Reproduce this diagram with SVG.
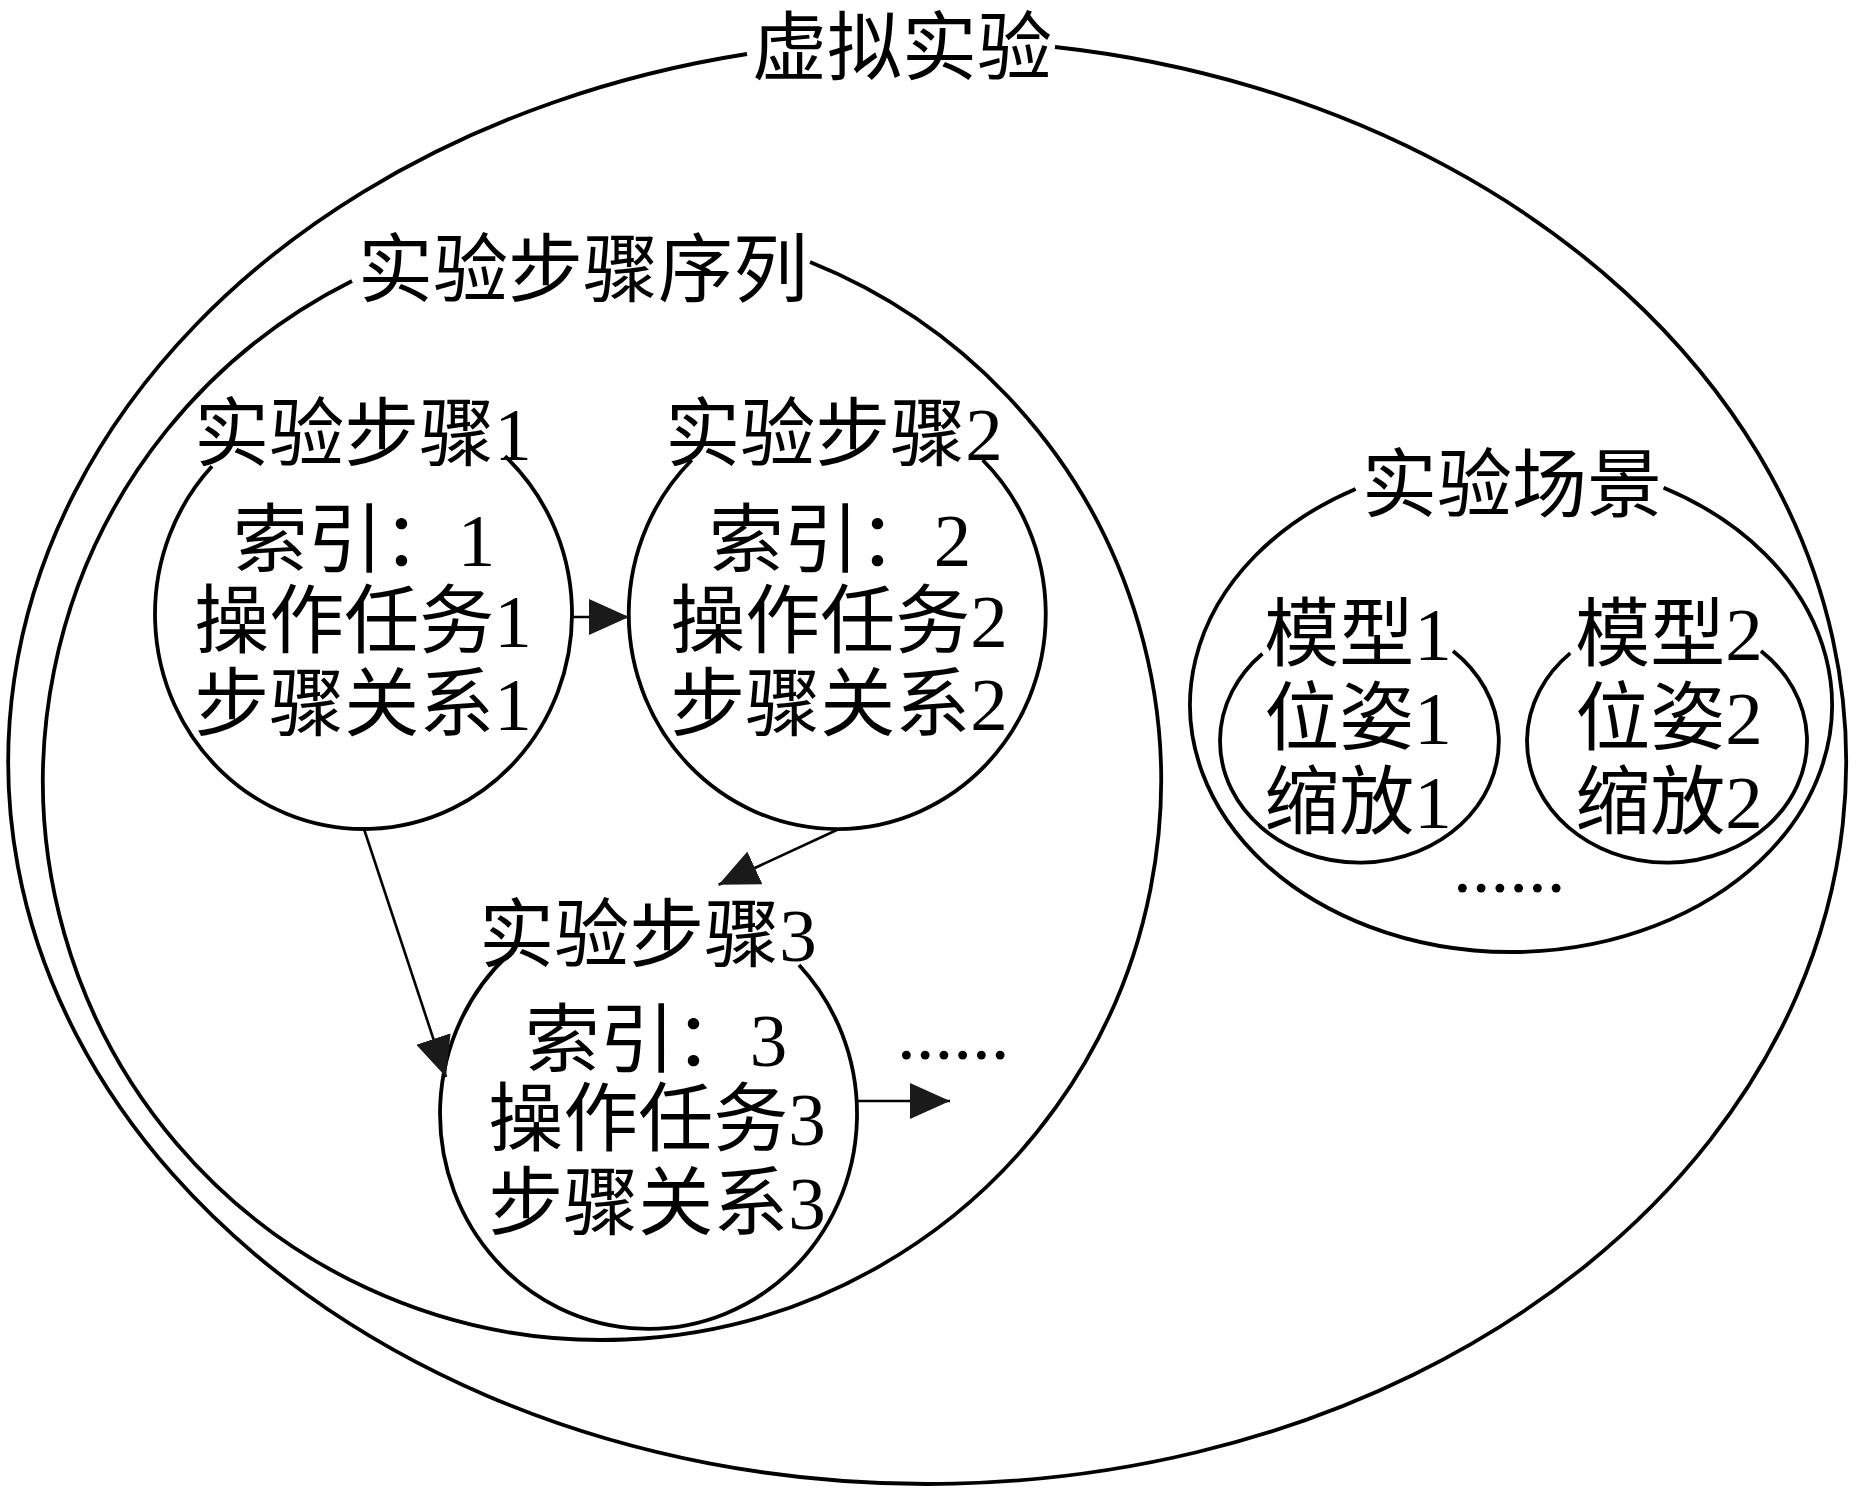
<svg xmlns="http://www.w3.org/2000/svg" width="1866" height="1496" viewBox="0 0 1866 1496">
<style>
.shape{fill:none;stroke:#000;stroke-width:3.8}
.edge{fill:none;stroke:#000;stroke-width:2.6}
text{font-family:"Liberation Serif","Noto Sans CJK SC",serif;font-size:75px;fill:#000}
.c{text-anchor:middle}
</style>
<defs>
<marker id="arr" viewBox="0 0 40 36" refX="40" refY="18" markerWidth="40" markerHeight="36" markerUnits="userSpaceOnUse" orient="auto">
<path d="M0,0 L40,18 L0,36 z" fill="#1a1a1a"/>
</marker>
</defs>
<rect width="1866" height="1496" fill="#fff"/>

<g id="virtual-experiment">
<path class="shape" d="M1055,47 A919,722 0 1 1 747,54"/>
<text class="c" x="902" y="74">虚拟实验</text>
</g>

<g id="step-sequence">
<path class="shape" d="M810,262.1 A559,559 0 1 1 352,281"/>
<text class="c" x="583" y="296">实验步骤序列</text>
</g>

<g id="step1">
<path class="shape" d="M505,456.1 A208.5,215 0 1 1 212,466.3"/>
<text class="c" x="363" y="460">实验步骤1</text>
<text class="c" x="364" y="566">索引：1</text>
<text class="c" x="363" y="647">操作任务1</text>
<text class="c" x="363" y="730">步骤关系1</text>
</g>

<g id="step2">
<path class="shape" d="M982.7,460 A208.5,215 0 1 1 691.8,460"/>
<text class="c" x="834" y="460">实验步骤2</text>
<text class="c" x="840" y="566">索引：2</text>
<text class="c" x="839" y="647">操作任务2</text>
<text class="c" x="839" y="730">步骤关系2</text>
</g>

<g id="step3">
<path class="shape" d="M799,965 A208.5,215 0 1 1 508,955"/>
<text class="c" x="648" y="961">实验步骤3</text>
<text class="c" x="656" y="1066">索引：3</text>
<text class="c" x="657" y="1145">操作任务3</text>
<text class="c" x="657" y="1229">步骤关系3</text>
</g>

<g id="more-steps">
<text x="897" y="1059">......</text>
</g>

<g id="scene">
<path class="shape" d="M1663.6,487.7 A321,247 0 1 1 1355.6,488.9"/>
<text class="c" x="1512" y="511">实验场景</text>
<text x="1453" y="892">......</text>
</g>

<g id="model1">
<path class="shape" d="M1453,650.9 A139.4,121.6 0 1 1 1262.4,653.7"/>
<text class="c" x="1358" y="660">模型1</text>
<text class="c" x="1358" y="744">位姿1</text>
<text class="c" x="1358" y="828">缩放1</text>
</g>

<g id="model2">
<path class="shape" d="M1761,650.9 A140,121.6 0 1 1 1570.3,653.1"/>
<text class="c" x="1669" y="660">模型2</text>
<text class="c" x="1669" y="744">位姿2</text>
<text class="c" x="1669" y="828">缩放2</text>
</g>

<g id="connectors">
<line class="edge" x1="572" y1="617" x2="629" y2="617" marker-end="url(#arr)"/>
<line class="edge" x1="839" y1="829" x2="718.6" y2="884.7" marker-end="url(#arr)"/>
<line class="edge" x1="364" y1="829" x2="446" y2="1077" marker-end="url(#arr)"/>
<line class="edge" x1="857" y1="1101" x2="950" y2="1101" marker-end="url(#arr)"/>
</g>
</svg>
